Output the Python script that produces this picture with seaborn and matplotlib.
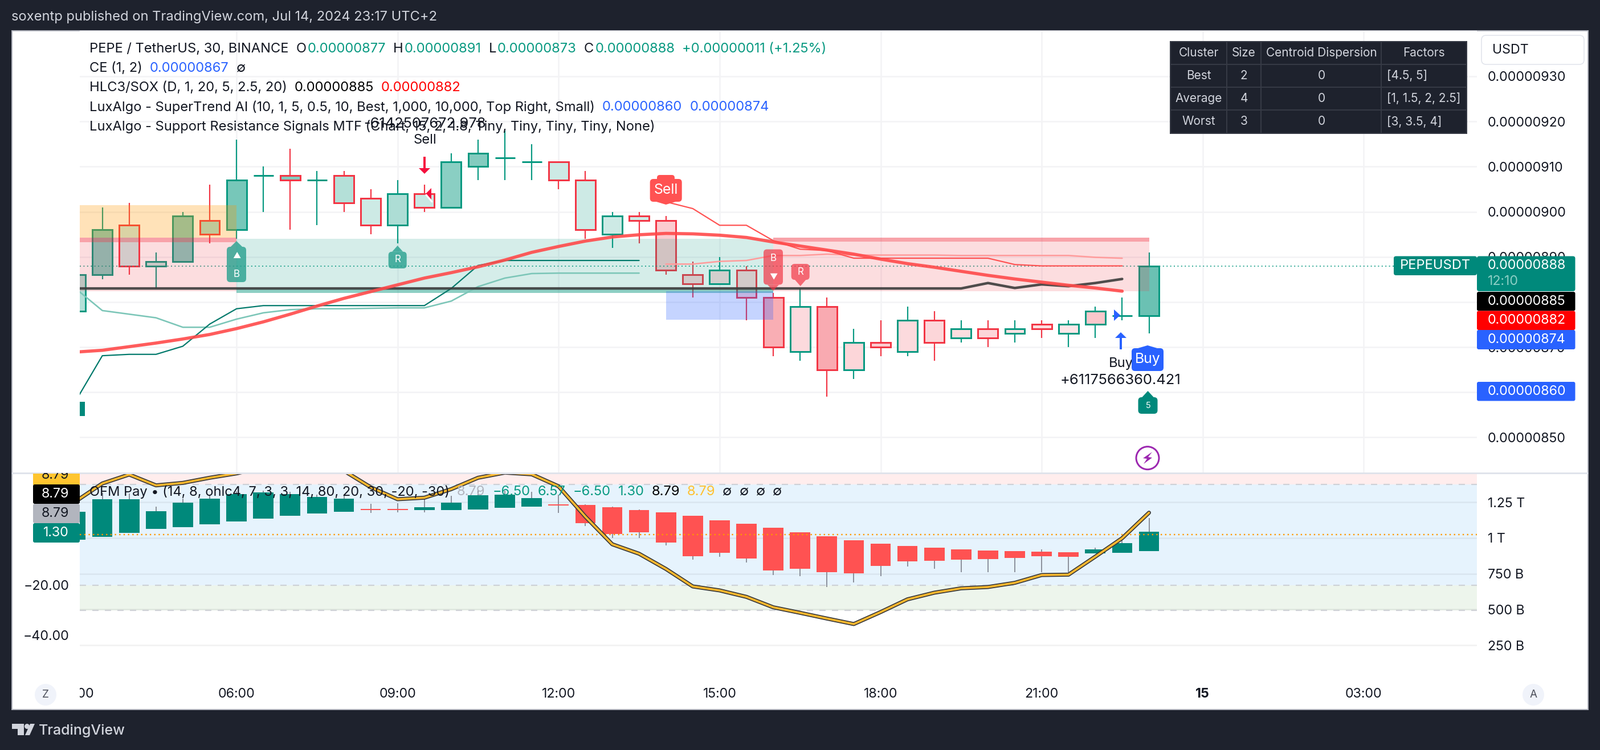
import matplotlib
matplotlib.use("Agg")
import matplotlib.pyplot as plt
import seaborn as sns
from matplotlib.patches import Rectangle, Circle, Polygon, FancyBboxPatch
from matplotlib.transforms import Bbox, TransformedBbox

# candles, price in units of 1e-8
bar_index = list(range(41))
open_px = [878, 886, 897, 888, 889, 898, 896, 908, 908, 907, 908, 903, 897, 904, 901, 910, 912, 911, 911, 907, 895,
           899, 898, 886, 884, 887, 881, 869, 879, 865, 871, 869, 876, 872, 874, 873, 875, 873, 875, 877, 877]
high_px = [887, 901, 902, 891, 900, 906, 916, 910, 914, 909, 909, 905, 907, 906, 913, 916, 918, 915, 911, 909, 900,
           900, 899, 889, 890, 888, 882, 883, 881, 874, 876, 879, 878, 876, 876, 876, 876, 876, 879, 881, 891]
low_px = [877, 885, 886, 883, 889, 893, 894, 900, 896, 897, 900, 895, 893, 900, 901, 907, 907, 907, 905, 894, 892,
          893, 886, 881, 884, 876, 868, 867, 859, 863, 868, 868, 867, 871, 870, 871, 872, 870, 872, 876, 873]
close_px = [886, 896, 888, 889, 899, 895, 907, 908, 907, 907, 902, 897, 904, 901, 911, 913, 912, 911, 907, 896, 899,
            898, 887, 884, 887, 881, 870, 879, 865, 871, 870, 876, 871, 874, 872, 874, 874, 875, 878, 877, 888]
fill_alpha = [.3, .5, .2, .25, .5, .35, .55, .5, .5, .5, .3, .2, .33, .22, .47, .5, .5, .5, .2, .2, .2,
              .2, .25, .2, .18, .2, .4, .18, .42, .2, .25, .18, .2, .17, .2, .15, .17, .12, .28, .2, .6]
fill_is_teal = [True] * 22 + [False] * 18 + [True]

ema_line = [868.9, 869.3, 870.1, 870.9, 871.8, 872.8, 874.1, 875.6, 877.3, 879.1, 880.8, 882.3, 883.8, 885.3, 886.5,
            887.8, 889.3, 891.0, 892.3, 893.5, 894.4, 894.9, 895.2, 895.1, 894.8, 894.3, 893.3, 892.4, 891.5, 890.6,
            889.5, 888.5, 887.7, 886.8, 885.9, 885.1, 884.4, 883.7, 883.1, 882.4]
hlc_line = [883.0] * 34 + [884.2, 883.1, 883.9, 883.5, 884.2, 885.1]
trend_up = [858.0, 868.1, 868.4, 868.4, 870.2, 875.1, 878.5, 879.2, 879.2, 879.2, 879.2, 879.2, 879.2, 879.2, 883.0,
            888.1, 889.2, 889.2, 889.2, 889.2, 889.2, 889.2]
trend_up_ama = [883.0, 878.1, 877.3, 876.5, 874.4, 874.4, 876.2, 877.6, 878.3, 878.5, 878.5, 878.6, 878.7, 878.7,
                880.2, 883.4, 885.3, 886.3, 886.4, 886.4, 886.4, 886.4]
trend_down_x = list(range(22, 40))
trend_down = [902.2, 900.7, 897.0, 897.0, 893.6, 891.7, 891.4, 889.7, 889.7, 889.7, 889.7, 889.7, 889.7, 888.3,
              888.0, 888.0, 888.0, 888.0]
trend_down_ama = [888.4, 888.4, 889.0, 889.2, 890.3, 890.3, 890.6, 890.4, 890.4, 890.4, 890.4, 890.3, 890.3, 890.3,
                  890.3, 890.3, 889.9, 889.7]
last_price = 888
price_ticks = [850, 860, 870, 880, 890, 900, 910, 920, 930]
price_labels = ["0.00000850", "0.00000860", "0.00000870", "0.00000880", "0.00000890", "0.00000900", "0.00000910",
                "0.00000920", "0.00000930"]

# OFM Pay pane
ofm_open = [-1.87, -.81, .77, 2.36, 3.04, 4.17, 5.3, 6.43, 7.57, 8.47, 9.15, 10.2, 10.2, 9.83, 9.83, 10.06, 10.74,
            11.19, 12.1, 11.9, 10.96, 9.83, 8.93, 7.57, 5.76, 4.4, 2.81, 1.0, -.59, -2.17, -3.53, -4.44, -5.12, -5.8,
            -6.25, -6.48, -6.7, -6.93, -7.38, -7.15, -6.5]
ofm_close = [9.15, 14.14, 14.14, 9.38, 12.78, 14.36, 16.17, 16.85, 16.17, 15.04, 14.36, 9.9, 9.9, 10.96, 12.78, 15.72,
             15.95, 14.59, 11.72, 4.62, .32, .99, -3.08, -8.51, -7.15, -9.42, -14.18, -13.5, -14.86, -15.31, -12.36,
             -10.55, -10.33, -9.87, -9.65, -9.19, -8.51, -8.74, -5.8, -3.3, 1.3]
ofm_high = [11, 16.6, 16.5, 11.2, 14.36, 15.87, 17.4, 17.5, 17, 16, 15.5, 12.3, 12.5, 14.36, 15.5, 17.76, 17.5, 17,
            15.87, 12.1, 11.2, 10, 9, 7.6, 5.8, 4.4, 2.81, 1.0, -.59, -2.17, -3.53, -4.44, -5.12, -5.8, -6.25, -6.48,
            -5.8, -6.93, -5.12, -.36, 6.57]
ofm_low = [-1.87, -.81, .77, 2.36, 3.04, 4.17, 5.3, 6.43, 7.57, 8.47, 9.15, 8.7, 9, 8.93, 9.83, 10.06, 10.74, 11.19,
           8.7, 3.49, -1.27, -1.27, -4.21, -9.87, -8.74, -11.0, -16.0, -16.44, -20.75, -18.93, -16.44, -12.59, -13.5,
           -14.86, -14.86, -14.86, -14.86, -14.86, -7.38, -7.15, -6.5]
ofm_line = [13.23, 20.4, 23.95, 19.65, 20.63, 22.67, 24.4, 26.82, 27.95, 27.57, 25.46, 18.89, 14.14, 14.74, 18.14,
            22.67, 24.71, 24.03, 19.27, 7.19, -3.76, -7.53, -13.57, -20.52, -22.1, -24.67, -28.82, -31.01, -33.28,
            -35.47, -30.71, -25.65, -23.01, -21.27, -20.75, -19.09, -15.99, -15.84, -8.67, -1.34, 8.79]
osc_ticks = [-20, -40]
osc_labels = ["\u221220.00", "\u221240.00"]
vol_ticks = [250, 500, 750, 1000, 1250]
vol_labels = ["250 B", "500 B", "750 B", "1 T", "1.25 T"]
band_levels = [20, -20, -30]

# time axis
time_ticks = [0, 6, 12, 18, 24, 30, 36, 42, 48]
time_labels = ["03:00", "06:00", "09:00", "12:00", "15:00", "18:00", "21:00", "15", "03:00"]

table_rows = [["Cluster", "Size", "Centroid Dispersion", "Factors"],
              ["Best", "2", "0", "[4.5, 5]"],
              ["Average", "4", "0", "[1, 1.5, 2, 2.5]"],
              ["Worst", "3", "0", "[3, 3.5, 4]"]]

W, H = 2808, 1316
DPI = 200
TEAL = "#089981"
RED = "#F23645"
TAG_TEAL = "#00897B"
BLUE = "#2962FF"
DARK = "#1E222D"
TEXT = "#131722"
FS = 8.52
AXFS = 8.35


def pt(px):
    return px * 72 / DPI


def px_axes(x0, y0, x1, y1):
    return fig.add_axes([x0 / W, 1 - y1 / H, (x1 - x0) / W, (y1 - y0) / H])


def rgba(col, a):
    return matplotlib.colors.to_rgba(col, a)


sns.set_theme(style="white")
plt.rcParams["font.family"] = ["Inter", "DejaVu Sans"]

fig = plt.figure(figsize=(W / DPI, H / DPI), dpi=DPI, facecolor=DARK)
fig.add_artist(Rectangle((21 / W, 1 - 1245 / H), 2766 / W, 1191 / H, transform=fig.transFigure,
                         fc="white", ec="#B2B5BE", lw=pt(2), zorder=-5))

# main pane
XLIM = ((140 - 132.5) / 47.1, (2592 - 132.5) / 47.1)
ax = px_axes(140, 54, 2592, 830)
ax.set_xlim(*XLIM)
ax.set_ylim(842.1, 940.1)
ax.set_xticks([t for t in time_ticks if t > 0])
ax.set_xticklabels([])
ax.set_yticks(price_ticks)
ax.set_yticklabels(price_labels, fontsize=AXFS, color=TEXT)
ax.yaxis.tick_right()
ax.tick_params(axis="both", length=0)
ax.tick_params(axis="y", pad=pt(19))
ax.grid(True, color="#F3F3F5", lw=pt(2.5))
ax.set_axisbelow(True)
for s in ax.spines.values():
    s.set_visible(False)

up = [c >= o for o, c in zip(open_px, close_px)]
edge = [TEAL if u else RED for u in up]
face = [rgba(TEAL if t else RED, a) for t, a in zip(fill_is_teal, fill_alpha)]
body_bot = [min(o, c) for o, c in zip(open_px, close_px)]
body_h = [abs(c - o) for o, c in zip(open_px, close_px)]
ax.vlines(bar_index, low_px, high_px, colors=edge, lw=pt(2.2), zorder=2)
# white first so the wick does not show through the light fills
ax.bar(bar_index, body_h, bottom=body_bot, width=0.74, color="white", lw=0, zorder=2.5)
ax.bar(bar_index, body_h, bottom=body_bot, width=0.74, color=face, edgecolor=edge, lw=pt(3), zorder=3)

ax.axhline(last_price, color=TEAL, lw=pt(2), ls=(0, (1, 2.2)), alpha=.8, zorder=3.5)

# support / resistance zones sit over the candles
left_frac = (6 - XLIM[0]) / (XLIM[1] - XLIM[0])
ax.axhspan(894.3, 901.4, xmax=left_frac, color="#FF9800", alpha=.28, lw=0, zorder=4)
ax.axhspan(882.4, 894.3, xmax=left_frac, color=RED, alpha=.17, lw=0, zorder=4)
ax.axhspan(893.3, 894.3, xmax=left_frac, color=RED, alpha=.35, lw=0, zorder=4)
ax.fill_between([6, 26], 882, 894, color=TEAL, alpha=.17, lw=0, zorder=4)
ax.fill_between([6, 26], 882, 883, color=TEAL, alpha=.35, lw=0, zorder=4)
ax.fill_between([22, 26], 876.1, 882.4, color=BLUE, alpha=.27, lw=0, zorder=4)
ax.fill_between([26, 40], 882.4, 894.3, color=RED, alpha=.17, lw=0, zorder=4)
ax.fill_between([26, 40], 893.4, 894.3, color=RED, alpha=.35, lw=0, zorder=4)

sns.lineplot(x=bar_index[:len(trend_up_ama)], y=trend_up_ama, ax=ax, color="#7CC6B8", lw=pt(2.6), estimator=None,
             sort=False, zorder=5)
sns.lineplot(x=bar_index[:len(trend_up)], y=trend_up, ax=ax, color="#00796B", lw=pt(2.2), estimator=None, sort=False,
             zorder=5)
sns.lineplot(x=trend_down_x, y=trend_down_ama, ax=ax, color="#FF9C9C", lw=pt(2.6), estimator=None, sort=False, zorder=5)
sns.lineplot(x=trend_down_x, y=trend_down, ax=ax, color="#FF5252", lw=pt(2.2), estimator=None, sort=False, zorder=5)
sns.lineplot(x=bar_index[:len(hlc_line)], y=hlc_line, ax=ax, color="#3C3C3C", lw=pt(4.5), alpha=.9, estimator=None,
             sort=False, zorder=6)
sns.lineplot(x=bar_index[:len(ema_line)], y=ema_line, ax=ax, color="#FF4A4A", lw=pt(5.6), alpha=.9, estimator=None,
             sort=False, zorder=6)
ax.set(xlabel="", ylabel="")

# lower pane, volume scale behind and oscillator scale in front
OSC_YLIM = (-56.99, 24.55)
VOL_YLIM = (20, 1454)
ax_low = px_axes(140, 830, 2592, 1190)
ax_low.set_xlim(*XLIM)
ax_low.set_ylim(*OSC_YLIM)
ax_vol = ax_low.twinx()
ax_vol.set_ylim(*VOL_YLIM)
ax_vol.set_zorder(1)
ax_low.set_zorder(2)
ax_low.patch.set_visible(False)
# the coloured bands belong to the oscillator scale but lie behind the volume grid
ax_band = ax_low.twinx()
ax_band.set_ylim(*OSC_YLIM)
ax_band.set_zorder(0)
ax_band.axis("off")
ax_vol.patch.set_visible(False)
ax_band.axhspan(band_levels[0], OSC_YLIM[1], color="#FFEDED", lw=0)
ax_band.axhspan(band_levels[1], band_levels[0], color="#E6F3FD", lw=0)
ax_band.axhspan(band_levels[2], band_levels[1], color="#EDF5EC", lw=0)

ax_vol.set_yticks(vol_ticks)
ax_vol.set_yticklabels(vol_labels, fontsize=AXFS, color=TEXT)
ax_vol.set_xticks([t for t in time_ticks if t > 0])
ax_vol.set_xticklabels([])
ax_vol.tick_params(axis="both", length=0)
ax_vol.tick_params(axis="y", pad=pt(19))
ax_vol.grid(True, color="black", alpha=.055, lw=pt(2.5))
ax_vol.set_axisbelow(False)

ax_low.set_yticks(osc_ticks)
ax_low.set_yticklabels(osc_labels, fontsize=AXFS, color=TEXT)
ax_low.set_xticks([])
ax_low.tick_params(axis="y", length=0, pad=pt(19))
for a in (ax_low, ax_vol):
    for s in a.spines.values():
        s.set_visible(False)

for level in band_levels:
    ax_low.axhline(level, color="#C9CCD2", alpha=.85, lw=pt(2.2), ls=(0, (5, 5)), zorder=1)
ax_low.axhline(0, color="#FF9800", lw=pt(2.4), ls=(0, (1, 2.2)), zorder=4)

ofm_up = [c >= o for o, c in zip(ofm_open, ofm_close)]
ofm_col = [TAG_TEAL if u else "#FF5252" for u in ofm_up]
ofm_bot = [min(o, c) for o, c in zip(ofm_open, ofm_close)]
ofm_h = [abs(c - o) for o, c in zip(ofm_open, ofm_close)]
ax_low.vlines(bar_index, ofm_low, ofm_high, colors="#787B86", lw=pt(1.6), zorder=2)
ax_low.bar(bar_index, ofm_h, bottom=ofm_bot, width=0.76, color=ofm_col, lw=0, zorder=3)
sns.lineplot(x=bar_index, y=ofm_line, ax=ax_low, color="#3A3A3A", lw=pt(7), estimator=None, sort=False, zorder=5)
sns.lineplot(x=bar_index, y=ofm_line, ax=ax_low, color="#FFB92E", lw=pt(3.6), estimator=None, sort=False, zorder=6)
ax_low.set(xlabel="", ylabel="")

# time axis strip
ax_t = px_axes(140, 1190, 2592, 1245)
ax_t.set_xlim(*XLIM)
ax_t.set_ylim(1245, 1190)
ax_t.axis("off")
for t, lab in zip(time_ticks, time_labels):
    ax_t.text(t, 1218.5, lab, ha="center", va="center", fontsize=AXFS, color=TEXT, clip_on=True,
              fontweight="bold" if lab == "15" else "normal")

# overlay in image pixels for the chrome and tags
ov = fig.add_axes([0, 0, 1, 1], zorder=20)
ov.set_xlim(0, W)
ov.set_ylim(H, 0)
ov.axis("off")
ov.patch.set_visible(False)


def box(x0, y0, x1, y1, col, alpha=1.0, r=4, z=3, ec="none", lw=0):
    ov.add_patch(FancyBboxPatch((x0, y0), x1 - x0, y1 - y0, boxstyle=f"round,pad=0,rounding_size={r}", fc=col,
                                ec=ec, lw=lw, alpha=alpha, zorder=z))


def label(x, y, s, col=TEXT, fs=FS, ha="center", z=8, **kw):
    return ov.text(x, y, s, color=col, fontsize=fs, ha=ha, va="center", zorder=z, **kw)


def tag(x, y0, y1, half, tip, col, alpha=1.0):
    box(x - half, y0, x + half, y1, col, alpha=alpha, r=6)
    base = y0 if tip < y0 else y1
    ov.add_patch(Polygon([(x - half * .6, base), (x + half * .6, base), (x, tip)], fc=col, ec="none", alpha=alpha, zorder=3))


def runs(x, y, parts, gap=13, fs=FS):
    # parts are (text, colour, tight to the previous run)
    rend = fig.canvas.get_renderer()
    inv = ov.transData.inverted()
    for s, col, tight in parts:
        if tight:
            x -= gap - 2
        t = label(x, y, s, col=col, fs=fs, ha="left", z=9)
        bb = t.get_window_extent(rend)
        x += abs(inv.transform((bb.x1, 0))[0] - inv.transform((bb.x0, 0))[0]) + gap


# header and footer
label(20, 30, "soxentp published on TradingView.com, Jul 14, 2024 23:17 UTC+2", col="#D1D4DC", ha="left")
label(68, 1282, "TradingView", col="#D1D4DC", ha="left", fs=FS * 1.06, fontweight="medium")
ov.add_patch(Polygon([(21, 1270), (42, 1270), (42, 1290), (31, 1290), (31, 1279), (21, 1279)], fc="#D1D4DC", ec="none"))
ov.add_patch(Circle((47.5, 1274.5), 4.5, fc="#D1D4DC", ec="none"))
ov.add_patch(Polygon([(53, 1270), (61, 1270), (52, 1290), (44, 1290)], fc="#D1D4DC", ec="none"))
ov.add_patch(Rectangle((21, 829), 2766, 2.5, fc="#E0E3EB", ec="none", zorder=2))

# legend rows
G, B = TEAL, BLUE
runs(157, 86, [("PEPE / TetherUS, 30, BINANCE", TEXT, False), ("O", TEXT, False), ("0.00000877", G, True),
               ("H", TEXT, False), ("0.00000891", G, True), ("L", TEXT, False), ("0.00000873", G, True),
               ("C", TEXT, False), ("0.00000888", G, True), ("+0.00000011 (+1.25%)", G, False)])
runs(157, 120, [("CE (1, 2)", TEXT, False), ("0.00000867", B, False), ("\u2205", TEXT, False)])
runs(157, 154, [("HLC3/SOX (D, 1, 20, 5, 2.5, 20)", TEXT, False), ("0.00000885", "#000000", False),
                ("0.00000882", "#FF0000", False)])
runs(157, 188, [("LuxAlgo - SuperTrend AI (10, 1, 5, 0.5, 10, Best, 1,000, 10,000, Top Right, Small)", TEXT, False),
                ("0.00000860", B, False), ("0.00000874", B, False)])
runs(157, 222, [("LuxAlgo - Support Resistance Signals MTF (Chart, 15, 2, 1.8, Tiny, Tiny, Tiny, Tiny, None)", TEXT, False)])
runs(157, 863, [("OFM Pay \u2022 (14, 8, ohlc4, 7, 3, 3, 14, 80, 20, 30, -20, -30)", TEXT, False), ("8.79", "#B2B5BE", False),
                ("\u22126.50", TEAL, False), ("6.57", TEAL, False), ("\u22126.50", TEAL, False), ("1.30", TEAL, False),
                ("8.79", "#000000", False), ("8.79", "#FFC02E", False), ("\u2205", TEXT, False), ("\u2205", TEXT, False),
                ("\u2205", TEXT, False), ("\u2205", TEXT, False)])

# signal tags on the chart
label(746, 218, "-6142507672.978", col=TEXT, fs=FS * 1.08)
label(746, 246, "Sell", col=TEXT)
tag(415, 433, 495, 17, 423, "#26A08E", alpha=.8)
label(415, 449, "\u25B2", col="white", fs=FS * .6)
label(415, 482, "B", col="white", fs=FS * .72)
tag(697.7, 441.7, 471, 16, 431, "#26A08E", alpha=.8)
label(697.7, 456, "R", col="white", fs=FS * .72)
tag(1357, 437.5, 499.5, 17, 510, RED, alpha=.7)
label(1357, 453, "B", col="white", fs=FS * .72)
label(1357, 485, "\u25BC", col="white", fs=FS * .6)
tag(1404.7, 463, 491, 16, 502, RED, alpha=.7)
label(1404.7, 477, "R", col="white", fs=FS * .72)
box(1153, 307, 1184, 320, "#FF5252", r=5)
tag(1168.7, 314, 354, 28, 359, "#FF5252")
label(1168.7, 334, "Sell", col="white", fs=FS * 1.05)
ov.add_patch(Rectangle((743, 275), 4, 21, fc="#F5103E", ec="none", zorder=4))
ov.add_patch(Polygon([(735, 295), (755, 295), (745, 305)], fc="#F5103E", ec="none", zorder=4))
ov.add_patch(Polygon([(747, 340), (757, 330), (757, 350)], fc="#F5103E", ec="none", zorder=4))
ov.plot([748, 758], [342, 354], color="white", lw=pt(3), zorder=4)
ov.add_patch(Rectangle((1965, 592), 4, 21, fc=BLUE, ec="none", zorder=4))
ov.add_patch(Polygon([(1957, 593), (1977, 593), (1967, 583)], fc=BLUE, ec="none", zorder=4))
ov.add_patch(Polygon([(1955, 543), (1955, 563), (1966, 553)], fc=BLUE, ec="none", zorder=4))
label(1967, 638, "Buy", col=TEXT, z=2)
label(1966, 667, "+6117566360.421", col=TEXT, z=2, fs=FS * 1.08)
tag(2014, 611, 651, 28, 606, BLUE)
label(2014, 631, "Buy", col="white", fs=FS * 1.05)
tag(2014.5, 697, 726, 17, 686, TAG_TEAL)
label(2014.5, 712, "5", col="white", fs=FS * .62)
ov.add_patch(Rectangle((140, 705), 9, 25, fc=TAG_TEAL, ec="none", zorder=3))
ov.add_patch(Circle((2014, 803.7), 20, fc="white", ec="#9C27B0", lw=pt(3), zorder=3))
ov.add_patch(Polygon([(2022, 793), (2006, 804), (2013, 805), (2007, 814), (2022, 803), (2015, 802)], fc="#9C27B0",
                     ec="none", zorder=4))

# right scale tags
box(2446, 449.5, 2592, 483, TAG_TEAL, r=4)
label(2519, 466, "PEPEUSDT", col="white")
box(2592, 449.5, 2764.5, 511, TAG_TEAL, r=4)
label(2611, 466, "0.00000888", col="white", ha="left", fs=AXFS)
label(2611, 494, "12:10", col="#8CCFC5", ha="left", fs=AXFS)
for y0, y1, col, s in [(512, 545.5, "#000000", "0.00000885"), (545.5, 579, "#FF0000", "0.00000882"),
                       (579, 613, BLUE, "0.00000874"), (670, 703.5, BLUE, "0.00000860")]:
    box(2592, y0, 2764.5, y1, col, r=3)
    label(2611, (y0 + y1) / 2, s, col="white", ha="left", fs=AXFS)
box(2600, 62, 2780, 113, "white", r=8, ec="#E0E3EB", lw=pt(1.5))
label(2619, 87.5, "USDT", col=TEXT, ha="left", fs=AXFS)

# oscillator tags on the left
clip = TransformedBbox(Bbox([[58, 830], [140, 850]]), ov.transData)
ov.add_patch(Rectangle((58, 830.5), 82, 20, fc="#FFC52F", ec="none", zorder=3))
t_y = label(121, 834, "8.79", col=TEXT, ha="right", fs=AXFS)
t_y.set_clip_box(clip)
t_y.set_clip_on(True)
for y0, y1, col, tcol, s in [(850, 884, "#000000", "white", "8.79"), (884, 918, "#B2B5BE", TEXT, "8.79"),
                             (918, 952, TAG_TEAL, "white", "1.30")]:
    box(58, y0, 140, y1, col, r=3)
    label(121, (y0 + y1) / 2, s, col=tcol, ha="right", fs=AXFS)

# cluster table
col_edges = [2054, 2153, 2213, 2424, 2574]
row_edges = [72.5, 113, 153, 193, 233.5]
col_mid = [2104, 2183, 2319, 2499]
ov.add_patch(Rectangle((2054, 72.5), 520, 161, fc=DARK, ec="#363A45", lw=pt(2), zorder=5))
for x in col_edges[1:-1]:
    ov.plot([x, x], [72.5, 233.5], color="#363A45", lw=pt(2), zorder=6)
for y in row_edges[1:-1]:
    ov.plot([2054, 2574], [y, y], color="#363A45", lw=pt(2), zorder=6)
for r, row in enumerate(table_rows):
    ym = (row_edges[r] + row_edges[r + 1]) / 2
    for c, s in enumerate(row):
        if c == 3 and r > 0:
            label(2434, ym, s, col="#D1D4DC", fs=FS * .88, ha="left")
        else:
            label(col_mid[c], ym, s, col="#D1D4DC", fs=FS * .88)

# Z and A buttons
for x, s in [(80, "Z"), (2691, "A")]:
    ov.add_patch(Circle((x, 1219), 19, fc="#F0F3FA", ec="none", zorder=3))
    label(x, 1219, s, col="#50535E", fs=FS * .8)

fig.savefig("out.png", dpi=DPI, facecolor=DARK)
